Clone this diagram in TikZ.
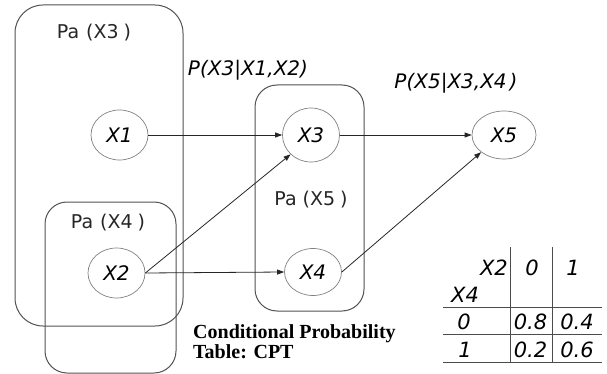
\documentclass[tikz,border=0pt]{standalone}
\usepackage{fontspec}
\setmainfont{DejaVu Sans}
\newfontfamily\serifbold{Liberation Serif}
\usetikzlibrary{arrows.meta}
\tikzset{
  grp/.style={draw=black!68, line width=1pt, rounded corners=22pt, inner sep=0pt},
  var/.style={ellipse, draw=black!50, line width=0.7pt, minimum width=57pt, minimum height=50pt, inner sep=0pt, font=\fontsize{20}{24}\selectfont\itshape},
  arr/.style={draw=black!85, line width=0.8pt, -{Triangle[length=7pt,width=5pt]}},
  palabel/.style={inner sep=0pt, font=\fontsize{19}{23}\selectfont, text=black!85},
  plabel/.style={inner sep=0pt, font=\fontsize{20}{24}\selectfont\itshape},
  cell/.style={inner sep=0pt, font=\fontsize{21}{25}\selectfont\itshape},
  rule/.style={draw=black!70, line width=0.9pt},
  cpt/.style={inner sep=0pt, anchor=base west, font=\serifbold\bfseries\fontsize{20}{24}\selectfont}
}
\usetikzlibrary{shapes.geometric}
\begin{document}
\begin{tikzpicture}[x=1pt,y=-1pt]
\useasboundingbox (0,0) rectangle (607,374);
% group boxes
\node[grp, rounded corners=28pt, minimum width=168pt, minimum height=321pt] (g3) at (99,165.5) {};
\node[grp, minimum width=131pt, minimum height=171pt] (g4) at (110.5,287.5) {};
\node[grp, minimum width=109pt, minimum height=226pt] (g5) at (309.5,198) {};
% group labels
\node[palabel] (pa3) at (94,33) {Pa\hspace{7pt}(X3\hspace{5pt})};
\node[palabel] (pa4) at (108,223) {Pa\hspace{7pt}(X4\hspace{5pt})};
\node[palabel] (pa5) at (311,200) {Pa\hspace{6pt}(X5\hspace{5pt})};
% probability labels
\node[plabel] (p3) at (248,70) {P(X3|X1,X2)};
\node[plabel] (p5) at (456,83) {P(X5|X3,X4\hspace{3pt})};
% variables
\node[var] (x1) at (119.5,135) {X1};
\node[var, minimum height=54pt] (x3) at (311,135) {X3};
\node[var, minimum width=64pt, minimum height=48pt] (x5) at (504,135) {X5};
\node[var] (x2) at (116.5,273) {X2};
\node[var, minimum height=47pt] (x4) at (313,272) {X4};
% arrows
\draw[arr] (x1.east) -- (x3.west);
\draw[arr] (x3.east) -- (x5.west);
\draw[arr] (x2.east) -- (x4.west);
\draw[arr] (x2.east) -- (x3.south west);
\draw[arr] (x4.east) -- (x5.south west);
% caption
\node[cpt] (c1) at (193,338) {Conditional Probability};
\node[cpt] (c2) at (193,358) {Table: CPT};
% table
\coordinate (tl) at (443,307);
\coordinate (tr) at (602,307);
\coordinate (ml) at (443,334.5);
\coordinate (mr) at (602,334.5);
\coordinate (bl) at (443,362);
\coordinate (br) at (602,362);
\coordinate (v1t) at (510,247);
\coordinate (v1b) at (510,362);
\coordinate (v2t) at (552,247);
\coordinate (v2b) at (552,362);
\draw[rule] (tl) -- (tr);
\draw[rule] (ml) -- (mr);
\draw[rule] (bl) -- (br);
\draw[rule] (v1t) -- (v1b);
\draw[rule] (v2t) -- (v2b);
\node[cell, anchor=east] (hx2) at (508,267.5) {X2};
\node[cell] (h0) at (532,267.5) {0};
\node[cell] (h1) at (573,267.5) {1};
\node[cell] (hx4) at (465,295) {X4};
\node[cell] (r0) at (464,322) {0};
\node[cell] (r08) at (530.5,322) {0.8};
\node[cell] (r04) at (577,322) {0.4};
\node[cell] (r1) at (465,350) {1};
\node[cell] (r02) at (530.5,350) {0.2};
\node[cell] (r06) at (577,350) {0.6};
\end{tikzpicture}
\end{document}
